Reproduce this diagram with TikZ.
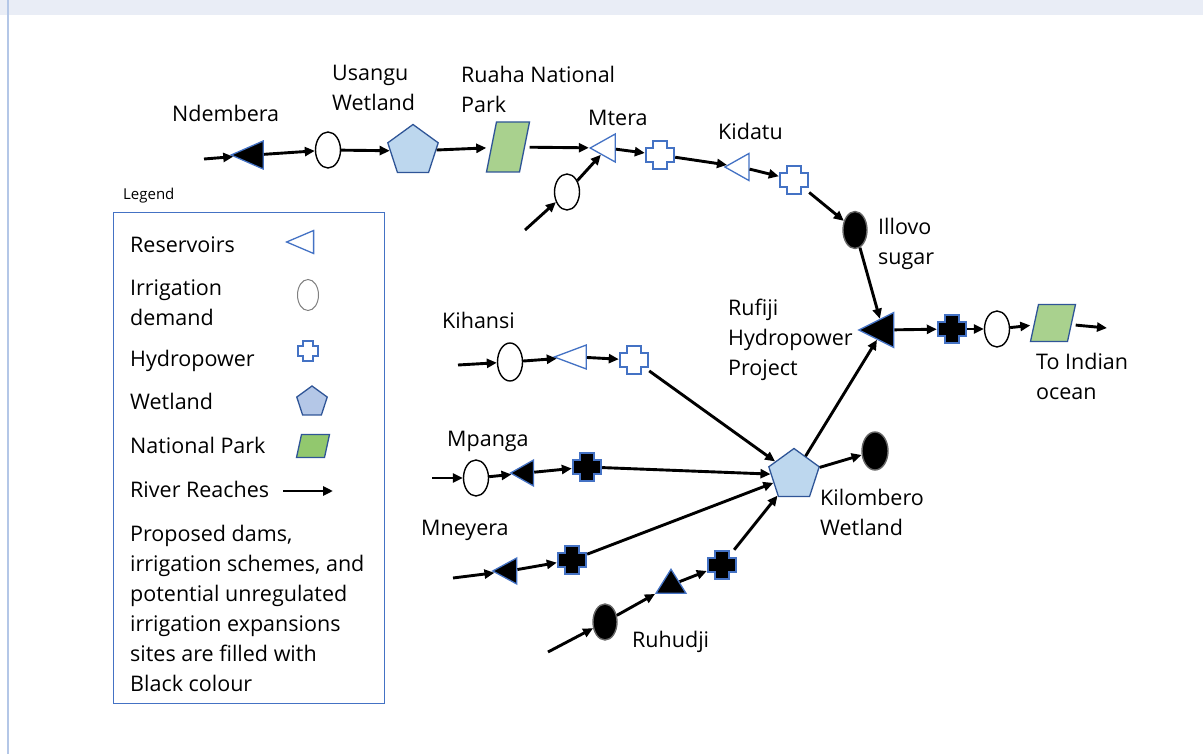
\documentclass[tikz,border=0pt]{standalone}
\usepackage{fontspec}
\setmainfont{Open Sans}
\usetikzlibrary{shapes.geometric,arrows.meta}

\definecolor{resblue}{RGB}{68,114,196}
\definecolor{wetedge}{RGB}{47,85,151}
\definecolor{wetfill}{RGB}{189,215,238}
\definecolor{parkgreen}{RGB}{169,209,142}
\definecolor{legblue}{RGB}{180,199,231}
\definecolor{leggreen}{RGB}{146,200,110}
\definecolor{bandcol}{RGB}{233,237,246}
\definecolor{framecol}{RGB}{180,199,231}

% hydropower cross: name, position, half size, fill
\newcommand{\hydro}[4]{%
  \node[hpbox, minimum size={2*#3+2}] (#1) at (#2) {};
  \draw[resblue, line width=1.3pt, fill=#4] ([shift={(-#3/2,-#3)}]#1.center)
    -- ++(#3,0) -- ++(0,#3/2) -- ++(#3/2,0) -- ++(0,#3) -- ++(-#3/2,0)
    -- ++(0,#3/2) -- ++(-#3,0) -- ++(0,-#3/2) -- ++(-#3/2,0) -- ++(0,-#3)
    -- ++(#3/2,0) -- cycle;}
% national park: name, position, width, height, slant, fill
\newcommand{\parkat}[6]{%
  \node[hpbox, minimum width=#3, minimum height=#4] (#1) at (#2) {};
  \draw[wetedge, line width=1.3pt, fill=#6] ([shift={(-#3/2,#4/2)}]#1.center)
    -- ++(#3-#5,0) -- ++(#5,-#4) -- ++(-#3+#5,0) -- cycle;}

\begin{document}
\begin{tikzpicture}[x=1pt, y=-1pt, font=\fontsize{21.5}{30}\selectfont,
  riv/.style={line width=2.9pt, -{Triangle[length=10pt,width=9pt]}},
  lbl/.style={inner sep=0pt, align=left, anchor=west},
  hpbox/.style={rectangle, inner sep=0pt},
  res/.style={isosceles triangle, isosceles triangle stretches, shape border rotate=180,
    draw=resblue, line width=1.3pt, fill=white, inner sep=0pt,
    minimum width=28pt, minimum height=25pt},
  resnew/.style={res, fill=black},
  irr/.style={ellipse, draw, line width=1.4pt, fill=white, inner sep=0pt,
    minimum width=25pt, minimum height=36pt},
  irrnew/.style={irr, fill=black, draw=black!60},
  wet/.style={regular polygon, regular polygon sides=5, draw=wetedge, fill=wetfill,
    line width=1.3pt, inner sep=0pt, minimum size=53pt}]

	\useasboundingbox (0,0) rectangle (1203,754);
	\fill[bandcol] (0,0) rectangle (1203,15);
	\draw[framecol, line width=1.5pt] (8,0) -- (8,754);

	% Great Ruaha
	\coordinate (nd0) at (204,159);
	\node[resnew, minimum width=28pt, minimum height=32pt] (ndem) at (254,155) {};
	\node[irr] (usirr) at (328,150) {};
	\node[wet] (usangu) at (413,151) {};
	\parkat{ruaha}{508,147}{43}{50}{10}{parkgreen}
	\node[res] (mtera) at (607,148) {};
	\coordinate (mt0) at (525,230);
	\node[irr] (mtirr) at (567,192) {};
	\hydro{mthp}{660,155}{14}{white}
	\node[res, minimum width=27pt, minimum height=24pt] (kidatu) at (741,167) {};
	\hydro{kdhp}{794,180}{14}{white}
	\node[irrnew, minimum width=24pt, minimum height=37pt] (illovo) at (855,230) {};

	% lower Rufiji
	\node[resnew, minimum width=35pt, minimum height=35pt] (rufiji) at (883,330) {};
	\hydro{rfhp}{952,329}{14}{black}
	\node[irr] (rfirr) at (997,329) {};
	\parkat{lowpark}{1053,323}{45}{37}{8}{parkgreen}
	\coordinate (out1) at (1107,328);

	% Kilombero
	\coordinate (ki0) at (458,365);
	\node[irr, minimum height=38pt] (kiirr) at (510,362) {};
	\node[res, minimum width=24pt, minimum height=32pt] (kihres) at (578,357) {};
	\hydro{kihp}{634,360}{14}{white}
	\coordinate (mp0) at (432,478);
	\node[irr] (mpirr) at (476,478) {};
	\node[resnew, minimum width=26pt, minimum height=23pt] (mpres) at (526,473) {};
	\hydro{mphp}{587,467}{14}{black}
	\node[wet] (kilo) at (794,475) {};
	\node[irrnew, minimum width=26pt, minimum height=38pt] (kiloirr) at (875,451) {};
	\coordinate (mn0) at (453,578);
	\node[resnew, shape border rotate=189, minimum width=26pt, minimum height=24pt] (mnres) at (509,571) {};
	\hydro{mnhp}{572,560}{14}{black}
	\coordinate (ru0) at (548,652);
	\node[irrnew, minimum width=24pt, minimum height=36pt] (ruirr) at (605,622) {};
	\node[resnew, shape border rotate=90, minimum width=30pt, minimum height=24pt] (rures) at (671,585) {};
	\hydro{ruhp}{722,565}{14}{black}

	\draw[riv] (nd0) -- (ndem);
	\draw[riv] (ndem) -- (usirr);
	\draw[riv] (usirr) -- (usangu);
	\draw[riv] (usangu) -- (ruaha);
	\draw[riv] (ruaha) -- (mtera);
	\draw[riv] (mt0) -- (mtirr);
	\draw[riv] (mtirr) -- (mtera);
	\draw[riv] (mtera) -- (mthp);
	\draw[riv] (mthp) -- (kidatu);
	\draw[riv] (kidatu) -- (kdhp);
	\draw[riv] (kdhp) -- (illovo);
	\draw[riv] (illovo) -- (rufiji);
	\draw[riv] (rufiji) -- (rfhp);
	\draw[riv] (rfhp) -- (rfirr);
	\draw[riv] (rfirr) -- (lowpark);
	\draw[riv] (lowpark) -- (out1);
	\draw[riv] (ki0) -- (kiirr);
	\draw[riv] (kiirr) -- (kihres);
	\draw[riv] (kihres) -- (kihp);
	\draw[riv] (kihp) -- (kilo);
	\draw[riv] (mp0) -- (mpirr);
	\draw[riv] (mpirr) -- (mpres);
	\draw[riv] (mpres) -- (mphp);
	\draw[riv] (mphp) -- (kilo);
	\draw[riv] (mn0) -- (mnres);
	\draw[riv] (mnres) -- (mnhp);
	\draw[riv] (mnhp) -- (kilo);
	\draw[riv] (ru0) -- (ruirr);
	\draw[riv] (ruirr) -- (rures);
	\draw[riv] (rures) -- (ruhp);
	\draw[riv] (ruhp) -- (kilo);
	\draw[riv] (kilo) -- (kiloirr);
	\draw[riv] (kilo) -- (rufiji);

	% labels
	\node[lbl] (tndem) at (172,113) {Ndembera};
	\node[lbl] (tusangu) at (332,88) {Usangu\\Wetland};
	\node[lbl] (truaha) at (461,89) {Ruaha National\\Park};
	\node[lbl] (tmtera) at (588,118) {Mtera};
	\node[lbl] (tkidatu) at (718,131) {Kidatu};
	\node[lbl] (tillovo) at (878,244) {Illovo\\sugar};
	\node[lbl] (trufiji) at (728,340) {Rufiji\\Hydropower\\Project};
	\node[lbl] (tout) at (1036,376) {To Indian\\ocean};
	\node[lbl] (tkihansi) at (442,320) {Kihansi};
	\node[lbl] (tmpanga) at (447,441) {Mpanga};
	\node[lbl] (tkilo) at (820,512) {Kilombero\\Wetland};
	\node[lbl] (tmneyera) at (421,530) {Mneyera};
	\node[lbl] (truhudji) at (632,642) {Ruhudji};

	% legend
	\node[lbl, font=\fontsize{15}{18}\selectfont] (legend) at (123,196) {Legend};
	\draw[resblue, line width=1pt] (113,213) rectangle (384,703);
	\node[lbl] (lres) at (130,245) {Reservoirs};
	\node[res, minimum width=23pt, minimum height=27pt] (kres) at (306,242) {};
	\node[lbl] (lirr) at (130,303) {Irrigation\\demand};
	\node[irr, draw=gray, line width=1pt, minimum width=21pt, minimum height=31pt] (kirr) at (308,295) {};
	\node[lbl] (lhp) at (130,361) {Hydropower};
	\hydro{khp}{308,351}{10}{white}
	\node[lbl] (lwet) at (130,401) {Wetland};
	\node[wet, minimum size=32pt, fill=legblue] (kwet) at (312,402) {};
	\node[lbl] (lpark) at (130,445) {National Park};
	\parkat{kpark}{313,446}{33}{23}{5}{leggreen}
	\node[lbl] (lriv) at (130,489) {River Reaches};
	\coordinate (kriv0) at (283,491);
	\coordinate (kriv1) at (333,491);
	\draw[riv] (kriv0) -- (kriv1);
	\node[lbl] (lnote) at (130,608) {Proposed dams,\\irrigation schemes, and\\potential unregulated\\irrigation expansions\\sites are filled with\\Black colour};
\end{tikzpicture}
\end{document}
